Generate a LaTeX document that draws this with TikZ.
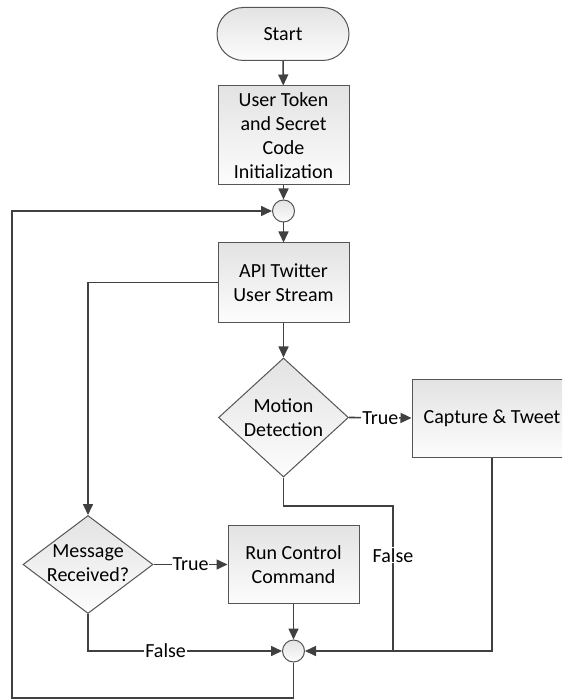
\documentclass[tikz,border=0pt]{standalone}
\usepackage{fontspec}
\setmainfont{Carlito}
\usetikzlibrary{arrows.meta,shapes.geometric}
\definecolor{ln}{HTML}{404040}
\definecolor{bd}{HTML}{555555}
\begin{document}
\begin{tikzpicture}[x=1pt,y=-1pt,
  font=\fontsize{20}{24}\selectfont,
  box/.style={rectangle, draw=bd, line width=1pt, top color=black!11, bottom color=black!1, align=center, inner sep=0pt},
  term/.style={box, rounded corners=26.5pt},
  decision/.style={diamond, draw=bd, line width=1pt, top color=black!11, bottom color=black!1, inner sep=0pt},
  junction/.style={circle, draw=bd, line width=1pt, top color=black!11, bottom color=black!1, inner sep=0pt, minimum size=22pt},
  txt/.style={align=center, inner sep=0pt},
  lbl/.style={fill=white, inner sep=1pt},
  arr/.style={draw=ln, line width=1.6pt, -{Triangle[length=11pt,width=10pt]}},
  conn/.style={draw=ln, line width=1.6pt}]
\useasboundingbox (0,0) rectangle (562,700);
\clip (0,0) rectangle (562,700);
\fill[white] (0,0) rectangle (562,700);

\node[term, minimum width=132pt, minimum height=53pt] (start) at (283,34) {Start};
\node[box, minimum width=131pt, minimum height=99pt] (init) at (283.5,135.5) {User Token\\and Secret\\Code\\Initialization};
\node[junction] (c1) at (283.5,211) {};
\node[box, minimum width=131pt, minimum height=79pt] (api) at (283.5,282.5) {API Twitter\\User Stream};
\node[decision, minimum width=130pt, minimum height=119pt] (motion) at (283.5,417.5) {};
\node[txt] (motiont) at (motion.center) {Motion\\Detection};
\node[box, minimum width=160pt, minimum height=78pt] (capture) at (492,418) {Capture \& Tweet};
\node[decision, minimum width=130pt, minimum height=98pt] (msg) at (88,564.5) {};
\node[txt] (msgt) at ([yshift=1pt]msg.center) {Message\\Received?};
\node[box, minimum width=131pt, minimum height=78pt] (run) at (293.5,564.5) {Run Control\\Command};
\node[junction] (c2) at (293.5,651) {};

\coordinate (mfa) at (393,506);
\coordinate (mfj) at (393,651);
\coordinate (lb) at (12,698);

\draw[arr] (start) -- (init);
\draw[arr] (init) -- (c1);
\draw[arr] (c1) -- (api);
\draw[arr] (api) -- (motion);
\draw[arr] (motion.east) -- node[lbl]{True} (capture.west);
\draw[arr] (capture.south) |- (c2.east);
\draw[conn] (motion.south) |- (mfa) -- node[lbl, pos=0.34]{False} (mfj);
\draw[arr] (api.west) -| (msg.north);
\draw[arr] (msg.east) -- node[lbl]{True} (run.west);
\draw[arr] (msg.south) |- node[lbl, pos=0.7]{False} (c2.west);
\draw[arr] (run) -- (c2);
\draw[arr] (c2.south) |- (lb) |- (c1.west);
\end{tikzpicture}
\end{document}
